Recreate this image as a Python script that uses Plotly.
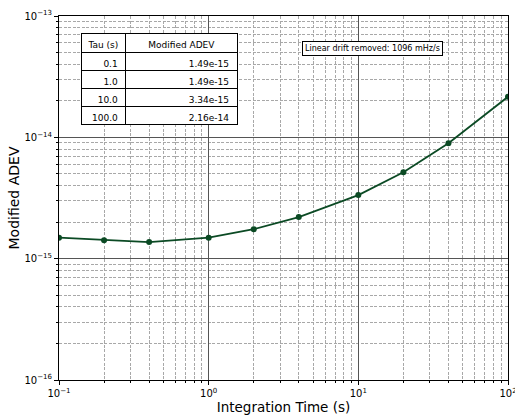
import plotly.graph_objects as go

tau = [0.1, 0.2, 0.4, 1, 2, 4, 10, 20, 40, 100]
madev = [1.49e-15, 1.42e-15, 1.37e-15, 1.49e-15, 1.75e-15, 2.2e-15, 3.34e-15, 5.15e-15, 8.95e-15, 2.16e-14]

table_tau = ["0.1", "1.0", "10.0", "100.0"]
table_adev = ["1.49e-15", "1.49e-15", "3.34e-15", "2.16e-14"]
table_header = ["Tau\u00a0(s)", "Modified\u00a0ADEV"]

x_tickvals = [0.1, 1, 10, 100]
x_ticktext = ["10<sup>−1</sup>", "10<sup>0</sup>", "10<sup>1</sup>", "10<sup>2</sup>"]
y_tickvals = [1e-16, 1e-15, 1e-14, 1e-13]
y_ticktext = ["10<sup>−16</sup>", "10<sup>−15</sup>", "10<sup>−14</sup>", "10<sup>−13</sup>"]

font = "DejaVu Sans"
line_color = "#0b4a24"

fig = go.Figure()
fig.add_trace(go.Scatter(
    x=tau, y=madev, mode="lines+markers",
    line=dict(color=line_color, width=1.8),
    marker=dict(color=line_color, size=6),
    showlegend=False,
))

fig.add_trace(go.Table(
    domain=dict(x=[0.049, 0.398], y=[0.70, 0.953]),
    columnwidth=[45, 112],
    header=dict(values=table_header, align="center",
                fill_color="white", line=dict(color="black", width=1),
                font=dict(family=font, size=9, color="black"), height=19),
    cells=dict(values=[table_tau, table_adev], align="right",
               fill_color="white", line=dict(color="black", width=1),
               font=dict(family=font, size=9, color="black"), height=18),
))

axis_common = dict(
    type="log", showline=True, linecolor="black", linewidth=1, mirror=True,
    showgrid=True, gridcolor="#555555", gridwidth=1,
    ticks="outside", ticklen=4, tickcolor="black",
    tickfont=dict(family=font, size=10, color="black"),
    zeroline=False, automargin=False, ticklabeloverflow="allow",
)
minor_common = dict(dtick="D1", showgrid=True, gridcolor="#a8a8a8", griddash="3px,1.5px",
                    gridwidth=0.8, ticks="outside", ticklen=2, tickcolor="black")

fig.update_xaxes(
    **axis_common,
    range=[-1, 2.000001], tickvals=x_tickvals, ticktext=x_ticktext,
    title=dict(text="Integration Time (s)", font=dict(family=font, size=13.5, color="black"), standoff=2),
    minor=minor_common,
)
fig.update_yaxes(
    **axis_common,
    range=[-16, -13], tickvals=y_tickvals, ticktext=y_ticktext,
    title=dict(text="Modified ADEV", font=dict(family=font, size=14, color="black"), standoff=1),
    minor=minor_common,
)

fig.add_annotation(
    x=0.699, y=0.912, xref="paper", yref="paper", xanchor="center", yanchor="middle",
    text="Linear drift removed: 1096 mHz/s", showarrow=False,
    font=dict(family=font, size=8, color="black"),
    bgcolor="white", bordercolor="black", borderwidth=1, borderpad=2,
)

fig.update_layout(
    width=515, height=417,
    margin=dict(l=59, r=7, t=16, b=37),
    plot_bgcolor="white", paper_bgcolor="white",
    font=dict(family=font),
)

fig.write_html("out.html", config={"displayModeBar": False},
               post_script="document.body.style.margin='0';document.body.style.overflow='hidden';")
